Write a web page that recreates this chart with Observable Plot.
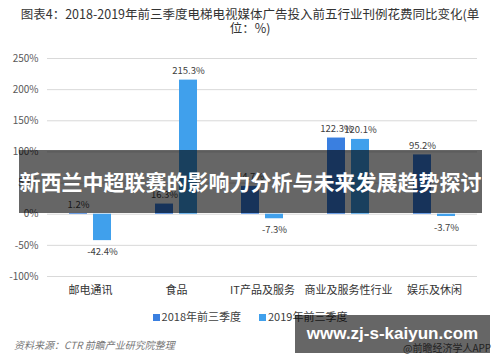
<!DOCTYPE html>
<html><head><meta charset="utf-8">
<script src="https://cdn.jsdelivr.net/npm/d3@7"></script>
<script src="https://cdn.jsdelivr.net/npm/@observablehq/plot@0.6"></script>
<style>
body{margin:0;background:#fff;font-family:"Noto Sans CJK SC","Noto Sans",sans-serif;}
#wrap{position:relative;width:500px;height:362px;overflow:hidden;background:#fff;}
#title{position:absolute;left:0;top:7px;width:500px;text-align:center;font-size:12.5px;line-height:14px;color:#333;}
#chart{position:absolute;left:0;top:40px;}
#legend{position:absolute;left:0;top:308px;width:500px;text-align:center;font-size:11px;color:#404040;}
#legend span.item{display:inline-block;margin:0 9px;}
#legend i{display:inline-block;width:7px;height:7px;margin-right:2px;vertical-align:0px;}
#source{position:absolute;left:14px;top:337px;font-size:10px;font-style:italic;color:#777;}
#app{position:absolute;left:403px;top:340px;font-size:10px;color:#555;white-space:nowrap;}
#banner{position:absolute;left:19px;top:150px;width:463px;height:63px;background:rgba(0,0,0,0.6);color:#fff;font-weight:bold;font-size:21px;text-align:center;line-height:63px;white-space:nowrap;}
#banner2{position:absolute;left:295px;top:315px;width:195px;height:38px;background:rgba(0,0,0,0.6);color:#fff;font-weight:bold;font-size:17px;font-family:"Liberation Sans","Noto Sans",sans-serif;text-align:center;line-height:38px;white-space:nowrap;}
</style></head>
<body><div id="wrap">
<div id="title">图表4：2018-2019年前三季度电梯电视媒体广告投入前五行业刊例花费同比变化(单<br>位：%)</div>
<div id="chart"></div>
<div id="legend"></div>
<div id="source">资料来源：CTR 前瞻产业研究院整理</div>
<div id="app">@前瞻经济学人APP</div>
<div id="banner">新西兰中超联赛的影响力分析与未来发展趋势探讨</div>
<div id="banner2">www.zj-s-kaiyun.com</div>
</div>
<script>
const categories = ["邮电通讯","食品","IT产品及服务","商业及服务性行业","娱乐及休闲"];
const seriesNames = ["2018年前三季度","2019年前三季度"];
const values2018 = [1.2, 16.3, 44.7, 122.3, 95.2];
const values2019 = [-42.4, 215.3, -7.3, 120.1, -3.7];
const yTicks = [-100, -50, 0, 50, 100, 150, 200, 250];
const colors = ["#3a7fe0", "#40a0ec"];

const data = [];
categories.forEach((c, i) => {
  data.push({cat: c, series: seriesNames[0], value: values2018[i]});
  data.push({cat: c, series: seriesNames[1], value: values2019[i]});
});

const chart = Plot.plot({
  width: 500,
  height: 262,
  marginLeft: 45,
  marginRight: 22,
  marginTop: 18,
  marginBottom: 26,
  style: {fontFamily: '"Noto Sans CJK SC","Noto Sans",sans-serif', fontSize: "10px", color: "#595959", background: "transparent"},
  fx: {domain: categories, padding: 0, label: null},
  x: {domain: seriesNames, paddingInner: 0.24, paddingOuter: 0.852, axis: null},
  y: {domain: [-100, 250], ticks: yTicks, label: null},
  color: {domain: seriesNames, range: colors},
  marks: [
    Plot.ruleY(yTicks, {stroke: "#d9d9d9", strokeWidth: 1}),
    Plot.axisY({ticks: yTicks, tickSize: 0, tickPadding: 9, tickFormat: d => d + "%", fontSize: 10, label: null, fill: "#595959"}),
    Plot.axisFx({anchor: "bottom", tickSize: 0, tickPadding: 10, fontSize: 11, label: null, fill: "#333"}),
    Plot.barY(data, {fx: "cat", x: "series", y: "value", fill: "series"}),
    Plot.text(data.filter(d => d.value >= 0), {fx: "cat", x: "series", y: "value", text: d => d.value.toFixed(1) + "%", dy: -9, fontSize: 9.5, fill: "#404040"}),
    Plot.text(data.filter(d => d.value < 0), {fx: "cat", x: "series", y: "value", text: d => d.value.toFixed(1) + "%", dy: 11, fontSize: 9.5, fill: "#404040"})
  ]
});
document.getElementById("chart").appendChild(chart);

const legend = document.getElementById("legend");
seriesNames.forEach((s, i) => {
  const span = document.createElement("span");
  span.className = "item";
  span.innerHTML = `<i style="background:${colors[i]}"></i>${s}`;
  legend.appendChild(span);
});
</script>
</body></html>
